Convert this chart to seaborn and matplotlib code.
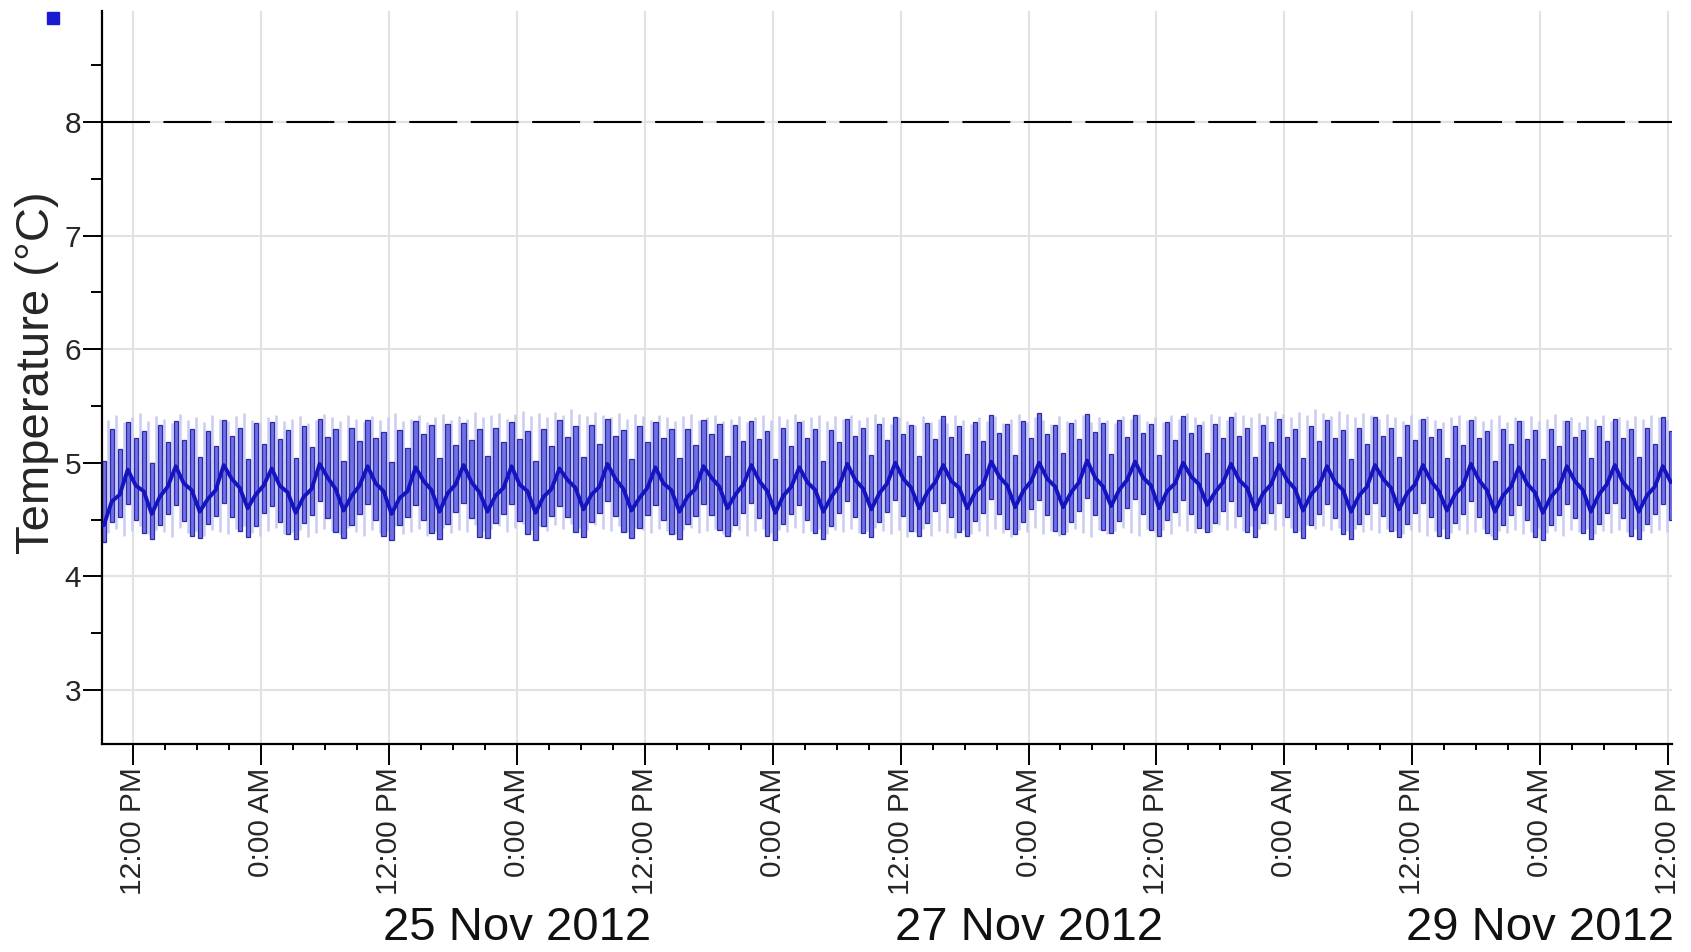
import numpy as np
import pandas as pd
import matplotlib
matplotlib.use("Agg")
import matplotlib.pyplot as plt
import matplotlib.dates as mdates
import matplotlib.transforms as mtransforms
from matplotlib.lines import Line2D
import seaborn as sns

# Логгер температуры, отсчёт каждые 45 минут
SERIES_START = "2012-11-23 09:15"
SERIES_STEP = "45min"

temp_mean = [
    4.45, 4.66, 4.72, 4.94, 4.80, 4.75, 4.55, 4.70, 4.79, 4.97, 4.82, 4.76,
    4.57, 4.68, 4.76, 4.98, 4.86, 4.78, 4.60, 4.72, 4.80, 4.95, 4.80, 4.74,
    4.56, 4.70, 4.77, 4.99, 4.87, 4.77, 4.58, 4.71, 4.80, 4.97, 4.82, 4.75,
    4.55, 4.69, 4.75, 4.96, 4.84, 4.76, 4.57, 4.73, 4.81, 4.98, 4.83, 4.74,
    4.57, 4.71, 4.78, 4.97, 4.81, 4.75, 4.56, 4.70, 4.77, 4.95, 4.85, 4.78,
    4.59, 4.72, 4.79, 4.99, 4.86, 4.77, 4.58, 4.69, 4.78, 4.96, 4.82, 4.76,
    4.57, 4.70, 4.77, 4.97, 4.87, 4.79, 4.60, 4.72, 4.81, 4.98, 4.84, 4.75,
    4.56, 4.71, 4.79, 4.96, 4.83, 4.76, 4.57, 4.70, 4.80, 4.99, 4.85, 4.77,
    4.59, 4.73, 4.82, 5.00, 4.86, 4.78, 4.60, 4.74, 4.83, 4.98, 4.84, 4.78,
    4.60, 4.74, 4.81, 5.01, 4.88, 4.80, 4.61, 4.75, 4.84, 5.00, 4.86, 4.79,
    4.61, 4.74, 4.83, 5.02, 4.87, 4.79, 4.62, 4.76, 4.85, 5.01, 4.87, 4.80,
    4.60, 4.75, 4.82, 5.00, 4.88, 4.81, 4.63, 4.74, 4.83, 4.99, 4.85, 4.78,
    4.59, 4.73, 4.81, 4.98, 4.85, 4.77, 4.58, 4.72, 4.80, 4.97, 4.83, 4.76,
    4.57, 4.71, 4.79, 4.98, 4.86, 4.78, 4.59, 4.73, 4.81, 4.98, 4.84, 4.75,
    4.58, 4.72, 4.80, 4.99, 4.85, 4.76, 4.57, 4.71, 4.79, 4.96, 4.82, 4.74,
    4.56, 4.70, 4.78, 4.97, 4.84, 4.76, 4.57, 4.72, 4.81, 4.98, 4.83, 4.75,
    4.57, 4.71, 4.79, 4.97, 4.83,
]

temp_high = [
    5.02, 5.30, 5.12, 5.36, 5.22, 5.28, 5.00, 5.33, 5.18, 5.37, 5.20, 5.30,
    5.05, 5.28, 5.15, 5.38, 5.24, 5.31, 5.03, 5.35, 5.17, 5.36, 5.21, 5.29,
    5.04, 5.32, 5.14, 5.39, 5.23, 5.30, 5.02, 5.31, 5.19, 5.38, 5.22, 5.27,
    5.01, 5.29, 5.13, 5.37, 5.25, 5.33, 5.04, 5.34, 5.16, 5.35, 5.20, 5.30,
    5.06, 5.31, 5.18, 5.36, 5.21, 5.28, 5.02, 5.30, 5.15, 5.38, 5.23, 5.32,
    5.05, 5.33, 5.17, 5.39, 5.24, 5.29, 5.03, 5.32, 5.18, 5.36, 5.22, 5.30,
    5.04, 5.30, 5.16, 5.38, 5.25, 5.34, 5.06, 5.33, 5.19, 5.37, 5.21, 5.28,
    5.03, 5.31, 5.15, 5.36, 5.22, 5.30, 5.02, 5.29, 5.18, 5.39, 5.24, 5.31,
    5.07, 5.34, 5.20, 5.40, 5.25, 5.33, 5.06, 5.35, 5.21, 5.41, 5.23, 5.32,
    5.08, 5.36, 5.19, 5.42, 5.26, 5.34, 5.07, 5.37, 5.22, 5.44, 5.25, 5.33,
    5.09, 5.35, 5.21, 5.43, 5.27, 5.35, 5.08, 5.38, 5.23, 5.42, 5.26, 5.34,
    5.07, 5.36, 5.20, 5.41, 5.26, 5.33, 5.09, 5.34, 5.22, 5.40, 5.24, 5.31,
    5.05, 5.33, 5.18, 5.39, 5.23, 5.30, 5.04, 5.32, 5.19, 5.38, 5.22, 5.29,
    5.03, 5.31, 5.17, 5.40, 5.24, 5.31, 5.05, 5.33, 5.20, 5.39, 5.23, 5.30,
    5.04, 5.32, 5.16, 5.38, 5.22, 5.28, 5.02, 5.30, 5.17, 5.37, 5.21, 5.29,
    5.03, 5.30, 5.15, 5.37, 5.23, 5.29, 5.04, 5.32, 5.19, 5.39, 5.22, 5.30,
    5.05, 5.31, 5.17, 5.40, 5.28,
]

temp_low = [
    4.30, 4.48, 4.52, 4.64, 4.50, 4.38, 4.33, 4.45, 4.55, 4.63, 4.49, 4.36,
    4.34, 4.46, 4.53, 4.65, 4.52, 4.40, 4.35, 4.44, 4.56, 4.62, 4.48, 4.37,
    4.33, 4.47, 4.54, 4.66, 4.51, 4.39, 4.34, 4.45, 4.55, 4.64, 4.50, 4.36,
    4.32, 4.45, 4.52, 4.63, 4.50, 4.38, 4.33, 4.46, 4.57, 4.65, 4.51, 4.35,
    4.34, 4.47, 4.55, 4.64, 4.49, 4.37, 4.32, 4.44, 4.53, 4.62, 4.52, 4.39,
    4.35, 4.48, 4.56, 4.66, 4.53, 4.39, 4.34, 4.43, 4.54, 4.63, 4.50, 4.37,
    4.33, 4.46, 4.53, 4.64, 4.54, 4.41, 4.36, 4.45, 4.56, 4.65, 4.51, 4.36,
    4.32, 4.46, 4.55, 4.63, 4.50, 4.38, 4.33, 4.44, 4.56, 4.66, 4.52, 4.38,
    4.35, 4.48, 4.57, 4.67, 4.53, 4.40, 4.36, 4.47, 4.58, 4.65, 4.52, 4.39,
    4.36, 4.49, 4.56, 4.68, 4.55, 4.42, 4.37, 4.48, 4.59, 4.67, 4.54, 4.40,
    4.37, 4.48, 4.58, 4.69, 4.54, 4.41, 4.38, 4.49, 4.60, 4.68, 4.55, 4.41,
    4.36, 4.50, 4.57, 4.67, 4.55, 4.43, 4.39, 4.47, 4.58, 4.66, 4.53, 4.39,
    4.35, 4.47, 4.56, 4.65, 4.52, 4.39, 4.34, 4.45, 4.55, 4.64, 4.51, 4.37,
    4.33, 4.46, 4.55, 4.65, 4.53, 4.40, 4.35, 4.46, 4.56, 4.65, 4.52, 4.36,
    4.34, 4.47, 4.55, 4.66, 4.52, 4.38, 4.33, 4.45, 4.54, 4.63, 4.50, 4.35,
    4.32, 4.45, 4.54, 4.64, 4.51, 4.38, 4.33, 4.46, 4.56, 4.65, 4.51, 4.36,
    4.33, 4.46, 4.55, 4.64, 4.50,
]

# Бледные линии второго канала, между отсчётами первого
LIGHT_START = "2012-11-23 09:37"
LIGHT_STEP = "45min"

light_high = [
    5.38, 5.42, 5.36, 5.40, 5.44, 5.37, 5.41, 5.39, 5.35, 5.43, 5.38, 5.40,
    5.36, 5.42, 5.39, 5.37, 5.41, 5.44, 5.38, 5.36, 5.40, 5.42, 5.37, 5.39,
    5.41, 5.35, 5.38, 5.43, 5.40, 5.37, 5.42, 5.39, 5.36, 5.41, 5.38, 5.40,
    5.44, 5.37, 5.39, 5.42, 5.36, 5.40, 5.43, 5.38, 5.41, 5.39, 5.45, 5.40,
    5.42, 5.44, 5.39, 5.43, 5.46, 5.41, 5.44, 5.40, 5.45, 5.42, 5.47, 5.43,
    5.41, 5.45, 5.42, 5.40, 5.44, 5.39, 5.43, 5.41, 5.38, 5.42, 5.40, 5.37,
    5.41, 5.43, 5.38, 5.40, 5.42, 5.37, 5.39, 5.41, 5.36, 5.40, 5.42, 5.38,
    5.41, 5.39, 5.43, 5.38, 5.40, 5.42, 5.37, 5.41, 5.39, 5.42, 5.38, 5.40,
    5.43, 5.40, 5.34, 5.40, 5.37, 5.33, 5.41, 5.36, 5.39, 5.35, 5.42, 5.38,
    5.34, 5.40, 5.37, 5.41, 5.35, 5.39, 5.43, 5.36, 5.40, 5.38, 5.34, 5.41,
    5.37, 5.39, 5.42, 5.36, 5.40, 5.38, 5.35, 5.41, 5.39, 5.43, 5.37, 5.40,
    5.36, 5.42, 5.39, 5.44, 5.40, 5.37, 5.43, 5.41, 5.38, 5.45, 5.42, 5.40,
    5.44, 5.41, 5.46, 5.43, 5.40, 5.45, 5.42, 5.47, 5.44, 5.41, 5.46, 5.43,
    5.40, 5.44, 5.42, 5.39, 5.43, 5.40, 5.37, 5.42, 5.39, 5.41, 5.38, 5.36,
    5.40, 5.42, 5.38, 5.41, 5.37, 5.39, 5.42, 5.36, 5.40, 5.38, 5.41, 5.37,
    5.39, 5.43, 5.38, 5.40, 5.36, 5.41, 5.39, 5.42, 5.37, 5.40, 5.38, 5.41,
    5.39, 5.42, 5.40, 5.38,
]

light_low = [
    4.38, 4.42, 4.36, 4.40, 4.44, 4.37, 4.41, 4.39, 4.35, 4.43, 4.38, 4.40,
    4.36, 4.41, 4.39, 4.37, 4.42, 4.44, 4.38, 4.36, 4.40, 4.43, 4.37, 4.39,
    4.41, 4.35, 4.38, 4.42, 4.40, 4.37, 4.43, 4.39, 4.36, 4.41, 4.38, 4.40,
    4.44, 4.37, 4.39, 4.42, 4.36, 4.40, 4.43, 4.38, 4.41, 4.39, 4.45, 4.40,
    4.42, 4.44, 4.39, 4.43, 4.46, 4.41, 4.44, 4.40, 4.45, 4.42, 4.46, 4.43,
    4.41, 4.45, 4.42, 4.40, 4.44, 4.39, 4.43, 4.41, 4.38, 4.42, 4.40, 4.37,
    4.41, 4.43, 4.38, 4.40, 4.42, 4.37, 4.39, 4.41, 4.36, 4.40, 4.42, 4.38,
    4.41, 4.39, 4.43, 4.38, 4.40, 4.42, 4.37, 4.41, 4.39, 4.42, 4.38, 4.40,
    4.43, 4.40, 4.37, 4.41, 4.35, 4.39, 4.42, 4.36, 4.40, 4.38, 4.34, 4.41,
    4.37, 4.40, 4.36, 4.42, 4.38, 4.35, 4.41, 4.39, 4.43, 4.37, 4.40, 4.36,
    4.39, 4.42, 4.38, 4.35, 4.41, 4.37, 4.40, 4.43, 4.38, 4.36, 4.42, 4.39,
    4.41, 4.37, 4.44, 4.40, 4.38, 4.42, 4.39, 4.45, 4.41, 4.43, 4.40, 4.44,
    4.42, 4.46, 4.41, 4.44, 4.43, 4.40, 4.45, 4.42, 4.44, 4.41, 4.43, 4.40,
    4.42, 4.39, 4.41, 4.38, 4.42, 4.40, 4.37, 4.41, 4.39, 4.36, 4.40, 4.42,
    4.38, 4.41, 4.37, 4.39, 4.42, 4.36, 4.40, 4.38, 4.41, 4.37, 4.39, 4.43,
    4.38, 4.40, 4.36, 4.41, 4.39, 4.42, 4.37, 4.40, 4.38, 4.41, 4.39, 4.42,
    4.40, 4.38, 4.41, 4.39,
]

LIMIT = 8.0
Y_TICKS = [3, 4, 5, 6, 7, 8]
DATE_LABELS = ["25 Nov 2012", "27 Nov 2012", "29 Nov 2012"]
DATE_LABEL_AT = ["2012-11-25 00:00", "2012-11-27 00:00", "2012-11-29 00:00"]
X_RANGE = ("2012-11-23 09:05", "2012-11-29 12:22")

BAR_BLUE = '#7070e4'
EDGE_BLUE = '#2c2caa'
LINE_BLUE = '#1414c0'
LAVENDER = '#cacaf4'
GRID = '#e2e2e2'

sns.set_theme(style="white")
plt.rcParams['font.family'] = ['Liberation Sans', 'DejaVu Sans']

df = pd.DataFrame({
    'time': pd.date_range(SERIES_START, periods=len(temp_mean), freq=SERIES_STEP),
    'mean': temp_mean, 'high': temp_high, 'low': temp_low,
})
light = pd.DataFrame({
    'time': pd.date_range(LIGHT_START, periods=len(light_high), freq=LIGHT_STEP),
    'high': light_high, 'low': light_low,
})

fig = plt.figure(figsize=(16.91, 9.52), dpi=100)
ax = fig.add_axes([102 / 1691, 208 / 952, 1570 / 1691, 733 / 952])

ax.vlines(light['time'], light['low'], light['high'], color=LAVENDER, lw=1.8, zorder=1)
ax.bar(df['time'], df['high'] - df['low'], bottom=df['low'], width=24 / 1440,
       color=BAR_BLUE, edgecolor=EDGE_BLUE, linewidth=0.9, zorder=2)
sns.lineplot(data=df, x='time', y='mean', color=LINE_BLUE, lw=2.8, ax=ax, zorder=3)

ax.axhline(LIMIT, color='black', lw=1.5, dashes=(23, 6.5), zorder=4)

ax.set_xlim(pd.Timestamp(X_RANGE[0]), pd.Timestamp(X_RANGE[1]))
ax.set_ylim(2.525, 8.977)

# оси и сетка
ax.xaxis.set_major_locator(mdates.HourLocator(byhour=[0, 12]))
ax.xaxis.set_minor_locator(mdates.HourLocator(byhour=[3, 6, 9, 15, 18, 21]))
ax.xaxis.set_major_formatter(plt.FuncFormatter(
    lambda v, p: '12:00 PM' if mdates.num2date(v).hour == 12 else '0:00 AM'))
ax.set_yticks(Y_TICKS)
ax.set_yticks(np.arange(3.5, 9.0, 1.0), minor=True)

ax.grid(True, which='major', color=GRID, lw=1.5, zorder=0)
ax.set_axisbelow(True)
for s in ['top', 'right']:
    ax.spines[s].set_visible(False)
for s in ['left', 'bottom']:
    ax.spines[s].set_color('black')
    ax.spines[s].set_linewidth(1.6)

ax.tick_params(axis='y', which='major', direction='out', length=14, width=1.4,
               color='black', labelsize=21.5, pad=1, left=True)
ax.tick_params(axis='y', which='minor', direction='out', length=8, width=1.4,
               color='black', left=True)
ax.tick_params(axis='x', which='major', direction='out', length=15, width=1.4,
               color='black', labelsize=21.5, pad=2, bottom=True)
ax.tick_params(axis='x', which='minor', direction='out', length=4.5, width=1.4,
               color='black', bottom=True)
for lbl in ax.get_xticklabels():
    lbl.set_rotation(90)
    lbl.set_va('top')
    lbl.set_ha('center')

ax.set_xlabel('')
ax.set_ylabel('Temperature (°C)', fontsize=34)
ax.yaxis.set_label_coords(-0.0275, 0.507)

trans = mtransforms.blended_transform_factory(ax.transData, ax.transAxes)
for lab, at in zip(DATE_LABELS, DATE_LABEL_AT):
    ax.text(pd.Timestamp(at), -0.251, lab, transform=trans, ha='center', va='center',
            fontsize=34, color='#111111')

# маркер легенды в углу
fig.add_artist(Line2D([53 / 1691], [1 - 18 / 952], marker='s', markersize=9,
                      color='#1a1ad0', lw=0, transform=fig.transFigure))

fig.savefig('out.png', dpi=100)
plt.close()
